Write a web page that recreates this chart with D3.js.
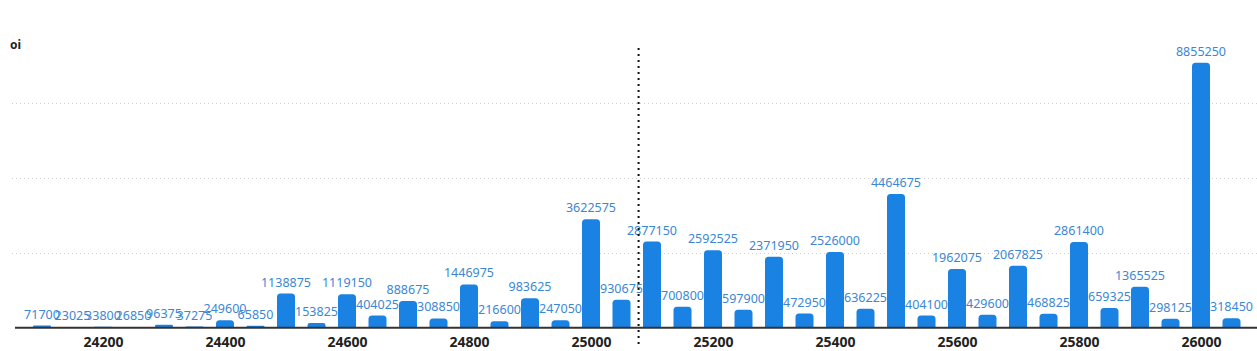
<!DOCTYPE html>
<html>
<head>
<meta charset="utf-8">
<script src="https://cdn.jsdelivr.net/npm/d3@7/dist/d3.min.js"></script>
<style>
  body { margin: 0; background: #fff; }
  svg { display: block; font-family: "Noto Sans", "Open Sans", sans-serif; }
</style>
</head>
<body>
<div id="chart"></div>
<script>
// strikes and open interest
const strikes = [
  24100, 24150, 24200, 24250, 24300, 24350, 24400, 24450, 24500, 24550,
  24600, 24650, 24700, 24750, 24800, 24850, 24900, 24950, 25000, 25050,
  25100, 25150, 25200, 25250, 25300, 25350, 25400, 25450, 25500, 25550,
  25600, 25650, 25700, 25750, 25800, 25850, 25900, 25950, 26000, 26050
];
const oi = [
  71700, 23025, 33800, 26850, 96375, 37275, 249600, 65850, 1138875, 153825,
  1119150, 404025, 888675, 308850, 1446975, 216600, 983625, 247050, 3622575, 930675,
  2877150, 700800, 2592525, 597900, 2371950, 472950, 2526000, 636225, 4464675, 404100,
  1962075, 429600, 2067825, 468825, 2861400, 659325, 1365525, 298125, 8855250, 318450
];
const tickStrikes = [24200, 24400, 24600, 24800, 25000, 25200, 25400, 25600, 25800, 26000];
const gridValues = [2500000, 5000000, 7500000];
const spotPrice = 25078;

const width = 1257, height = 351;
const baseY = 327.7;

const svg = d3.select("#chart").append("svg")
  .attr("width", width)
  .attr("height", height);

// x: linear in strike so the spot line can sit between bars
const x = d3.scaleLinear()
  .domain([24100, 26050])
  .range([42, 1231.5]);
const barW = 18;

const y = d3.scaleLinear()
  .domain([0, 10000000])
  .range([baseY, baseY - 4 * 74.8]);

// gridlines
svg.append("g")
  .selectAll("line")
  .data(gridValues)
  .join("line")
  .attr("x1", 12)
  .attr("x2", width)
  .attr("y1", d => Math.round(y(d)) + 0.5)
  .attr("y2", d => Math.round(y(d)) + 0.5)
  .attr("stroke", "#cfcfcf")
  .attr("stroke-width", 1)
  .attr("stroke-dasharray", "1,3");

// title
svg.append("text")
  .attr("x", 10)
  .attr("y", 49)
  .style("font-size", "12px")
  .style("font-weight", "bold")
  .style("fill", "#222")
  .text("oi");

// bars with rounded top corners
function barPath(cx, top, bottom, w, r) {
  const x0 = cx - w / 2, x1 = cx + w / 2;
  const rr = Math.min(r, (bottom - top) / 2, w / 2);
  return `M${x0},${bottom}V${top + rr}Q${x0},${top} ${x0 + rr},${top}` +
    `H${x1 - rr}Q${x1},${top} ${x1},${top + rr}V${bottom}Z`;
}

const data = strikes.map((s, i) => ({ strike: s, val: oi[i] }));

svg.append("g")
  .selectAll("path")
  .data(data)
  .join("path")
  .attr("fill", "#1a82e3")
  .attr("d", d => barPath(x(d.strike), y(d.val), baseY, barW, 3.5));

// value labels
svg.append("g")
  .selectAll("text")
  .data(data)
  .join("text")
  .attr("x", d => x(d.strike))
  .attr("y", d => y(d.val) - 7)
  .attr("text-anchor", "middle")
  .style("font-size", "12.5px")
  .style("fill", "#3b87d4")
  .text(d => d.val);

// x axis
const xAxis = svg.append("g")
  .attr("transform", `translate(0,${baseY})`)
  .call(d3.axisBottom(x).tickValues(tickStrikes).tickSize(0).tickPadding(9).tickFormat(d3.format("d")));
xAxis.select(".domain")
  .attr("d", `M15,0H${width}`)
  .attr("stroke", "#333")
  .attr("stroke-width", 2);
xAxis.selectAll("text")
  .style("font-size", "14px")
  .style("font-weight", "bold")
  .style("fill", "#222")
  .style("font-family", "\"Noto Sans\", sans-serif");

// spot price dotted line
svg.append("line")
  .attr("x1", x(spotPrice))
  .attr("x2", x(spotPrice))
  .attr("y1", 48)
  .attr("y2", 345)
  .attr("stroke", "#111")
  .attr("stroke-width", 2)
  .attr("stroke-dasharray", "2,4");
</script>
</body>
</html>
